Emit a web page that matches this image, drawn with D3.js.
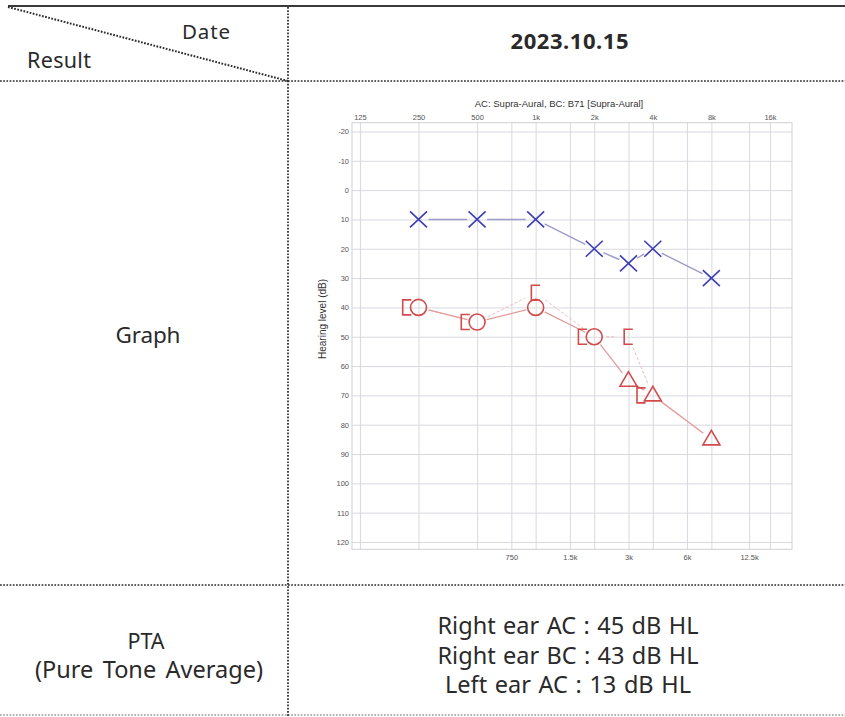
<!DOCTYPE html>
<html>
<head>
<meta charset="utf-8">
<script src="https://cdn.jsdelivr.net/npm/d3@7"></script>
<style>
  body { margin: 0; background: #fff; }
  svg { display: block; }
</style>
</head>
<body>
<div id="chart"></div>
<script>
// 数据
const testDate = "2023.10.15";
const chartTitle = "AC: Supra-Aural, BC: B71 [Supra-Aural]";

const topTicks = [125, 250, 500, 1000, 2000, 4000, 8000, 16000];
const topTickLabels = ["125", "250", "500", "1k", "2k", "4k", "8k", "16k"];
const bottomTicks = [750, 1500, 3000, 6000, 12500];
const bottomTickLabels = ["750", "1.5k", "3k", "6k", "12.5k"];
const dbTicks = [-20, -10, 0, 10, 20, 30, 40, 50, 60, 70, 80, 90, 100, 110, 120];

// left ear AC (X)
const leftAcFreq = [250, 500, 1000, 2000, 3000, 4000, 8000];
const leftAcDb = [10, 10, 10, 20, 25, 20, 30];
// right ear AC (O unmasked, triangle masked)
const rightAcFreq = [250, 500, 1000, 2000, 3000, 4000, 8000];
const rightAcDb = [40, 45, 40, 50, 65, 70, 85];
const rightAcMasked = [false, false, false, false, true, true, true];
// right ear BC masked ([)
const rightBcFreq = [250, 500, 1000, 2000, 3000, 4000];
const rightBcDb = [40, 45, 35, 50, 50, 70];

const ptaNames = ["Right ear AC", "Right ear BC", "Left ear AC"];
const ptaValues = [45, 43, 13];

const width = 845;
const height = 717;
const textFont = "'Noto Sans', 'DejaVu Sans', sans-serif";
const chartFont = "'Liberation Sans', Arial, sans-serif";
const textColor = "#2a2a2a";

const svg = d3.select("#chart")
    .append("svg")
    .attr("width", width)
    .attr("height", height);

// ---- 表格线 ----
svg.append("line")
    .attr("x1", 8).attr("y1", 6).attr("x2", width).attr("y2", 6)
    .attr("stroke", "#3a3a3a").attr("stroke-width", 2);

const dotted = [
    [0, 81, width, 81],
    [0, 585, width, 585],
    [0, 715, width, 715],
    [288, 7, 288, height],
    [8, 7, 288, 81]
];
svg.selectAll("line.dot")
    .data(dotted)
    .enter()
    .append("line")
    .attr("class", "dot")
    .attr("x1", d => d[0]).attr("y1", d => d[1])
    .attr("x2", d => d[2]).attr("y2", d => d[3])
    .attr("stroke", (d, i) => i === 2 ? "#999" : "#2a2a2a")
    .attr("stroke-width", (d, i) => i === 4 ? 2 : 1.7)
    .attr("stroke-dasharray", "1.7,1.5");

// ---- 表格文字 ----
// 多词文字用 word-spacing 撑到目标宽度，单词用 textLength
function fitWidth(t, target) {
    const txt = t.text();
    const spaces = (txt.match(/ /g) || []).length;
    const natural = t.node().getComputedTextLength();
    if (spaces > 0) {
        t.attr("word-spacing", (target - natural) / spaces);
    } else {
        t.attr("textLength", target).attr("lengthAdjust", "spacing");
    }
}

function label(txt, x, y, anchor, size, len, weight) {
    const t = svg.append("text")
        .attr("x", x).attr("y", y)
        .attr("text-anchor", anchor)
        .attr("font-family", textFont)
        .attr("font-size", size)
        .attr("font-weight", weight || "normal")
        .attr("fill", textColor)
        .text(txt);
    if (len) fitWidth(t, len);
}
label("Date", 182, 39, "start", 20.5, 48);
label("Result", 27, 68, "start", 21.5, 64);
label(testDate, 569.5, 49, "middle", 22, 118, "bold");
label("Graph", 148, 343, "middle", 22.5, 65);
label("PTA", 146, 649, "middle", 21.5);
label("(Pure Tone Average)", 149, 678, "middle", 23.5, 228);

const ptaWidths = [261, 261, 246];
svg.selectAll("text.pta")
    .data(ptaNames)
    .enter()
    .append("text")
    .attr("class", "pta")
    .attr("x", 568)
    .attr("y", (d, i) => 634 + i * 29.5)
    .attr("text-anchor", "middle")
    .attr("font-family", textFont)
    .attr("font-size", 23.5)
    .attr("fill", textColor)
    .text((d, i) => d + " : " + ptaValues[i] + " dB HL")
    .each(function (d, i) { fitWidth(d3.select(this), ptaWidths[i]); });

// ---- 听力图 ----
const plot = { left: 352, right: 792, top: 122.7, bottom: 549.3 };

const x = d3.scaleLog()
    .base(2)
    .domain([113.8, 20770])
    .range([plot.left, plot.right]);

const y = d3.scaleLinear()
    .domain([-23, 122.5])
    .range([plot.top, plot.bottom]);

const g = svg.append("g");

// 标题
g.append("text")
    .attr("x", 559).attr("y", 106.5)
    .attr("text-anchor", "middle")
    .attr("font-family", chartFont)
    .attr("font-size", 9.5)
    .attr("fill", "#333")
    .text(chartTitle);

const gridColor = "#d8d8e0";

// 横向网格 + y 轴
const yAxis = g.append("g")
    .attr("transform", "translate(" + plot.left + ",0)")
    .call(d3.axisLeft(y)
        .tickValues(dbTicks)
        .tickFormat(d => String(d))
        .tickSizeInner(-(plot.right - plot.left))
        .tickSizeOuter(0)
        .tickPadding(3));

// 纵向网格 + 上方频率
const topAxis = g.append("g")
    .attr("transform", "translate(0," + plot.top + ")")
    .call(d3.axisTop(x)
        .tickValues(topTicks)
        .tickFormat((d, i) => topTickLabels[i])
        .tickSizeInner(-(plot.bottom - plot.top))
        .tickSizeOuter(0)
        .tickPadding(3));

const bottomAxis = g.append("g")
    .attr("transform", "translate(0," + plot.bottom + ")")
    .call(d3.axisBottom(x)
        .tickValues(bottomTicks)
        .tickFormat((d, i) => bottomTickLabels[i])
        .tickSizeInner(-(plot.bottom - plot.top))
        .tickSizeOuter(0)
        .tickPadding(5));

[yAxis, topAxis, bottomAxis].forEach(function (a) {
    a.select(".domain").remove();
    a.selectAll(".tick line").attr("stroke", gridColor).attr("stroke-width", 1);
    a.selectAll(".tick text")
        .attr("font-family", chartFont)
        .attr("font-size", 7.5)
        .attr("fill", "#555");
});

// 边框
g.append("rect")
    .attr("x", plot.left).attr("y", plot.top)
    .attr("width", plot.right - plot.left)
    .attr("height", plot.bottom - plot.top)
    .attr("fill", "none")
    .attr("stroke", "#cfcfd8");

// y 轴标题
g.append("text")
    .attr("transform", "translate(326," + 319 + ") rotate(-90)")
    .attr("text-anchor", "middle")
    .attr("font-family", chartFont)
    .attr("font-size", 10)
    .attr("fill", "#333")
    .text("Hearing level (dB)");

// 连线（两端留空隙）
function gapSegments(freqs, dbs, gap) {
    const segs = [];
    for (let i = 0; i < freqs.length - 1; i++) {
        const x1 = x(freqs[i]), y1 = y(dbs[i]);
        const x2 = x(freqs[i + 1]), y2 = y(dbs[i + 1]);
        const len = Math.hypot(x2 - x1, y2 - y1);
        if (len <= gap * 2) continue;
        const ux = (x2 - x1) / len, uy = (y2 - y1) / len;
        segs.push([x1 + ux * gap, y1 + uy * gap, x2 - ux * gap, y2 - uy * gap]);
    }
    return segs;
}

function drawSegments(segs, color, w, dash) {
    g.append("g").selectAll("line")
        .data(segs)
        .enter()
        .append("line")
        .attr("x1", d => d[0]).attr("y1", d => d[1])
        .attr("x2", d => d[2]).attr("y2", d => d[3])
        .attr("stroke", color)
        .attr("stroke-width", w)
        .attr("stroke-dasharray", dash || null);
}

const red = "#d24a4a";
const blue = "#3d3db8";

drawSegments(gapSegments(rightBcFreq, rightBcDb, 12), "#efb9b9", 1, "3,2");
drawSegments(gapSegments(rightAcFreq, rightAcDb, 10), "#e49a9a", 1.3);
drawSegments(gapSegments(leftAcFreq, leftAcDb, 10), "#9c9cc9", 1.4);

// 左耳 X
g.append("g").selectAll("path")
    .data(leftAcFreq)
    .enter()
    .append("path")
    .attr("d", function (f, i) {
        const cx = x(f), cy = y(leftAcDb[i]);
        return "M" + (cx - 8.5) + "," + (cy - 8) + "L" + (cx + 8.5) + "," + (cy + 8) +
            "M" + (cx - 8.5) + "," + (cy + 8) + "L" + (cx + 8.5) + "," + (cy - 8);
    })
    .attr("fill", "none")
    .attr("stroke", blue)
    .attr("stroke-width", 1.6);

// 右耳 AC：圆 / 三角
g.append("g").selectAll("circle")
    .data(rightAcFreq.filter((f, i) => !rightAcMasked[i]))
    .enter()
    .append("circle")
    .attr("cx", d => x(d))
    .attr("cy", d => y(rightAcDb[rightAcFreq.indexOf(d)]))
    .attr("r", 8)
    .attr("fill", "none")
    .attr("stroke", red)
    .attr("stroke-width", 1.6);

g.append("g").selectAll("path")
    .data(rightAcFreq.filter((f, i) => rightAcMasked[i]))
    .enter()
    .append("path")
    .attr("d", function (f) {
        const cx = x(f), cy = y(rightAcDb[rightAcFreq.indexOf(f)]);
        return "M" + cx + "," + (cy - 9) + "L" + (cx - 8.5) + "," + (cy + 5.5) +
            "L" + (cx + 8.5) + "," + (cy + 5.5) + "Z";
    })
    .attr("fill", "none")
    .attr("stroke", red)
    .attr("stroke-width", 1.6);

// 右耳 BC：[ ，和 AC 重合时向左移
g.append("g").selectAll("path")
    .data(rightBcFreq)
    .enter()
    .append("path")
    .attr("d", function (f, i) {
        const j = rightAcFreq.indexOf(f);
        const overlap = j >= 0 && rightAcDb[j] === rightBcDb[i];
        const cx = x(f) + (overlap ? -11.5 : 0), cy = y(rightBcDb[i]);
        return "M" + (cx + 4.3) + "," + (cy - 7.5) + "H" + (cx - 4.3) +
            "V" + (cy + 7.5) + "H" + (cx + 4.3);
    })
    .attr("fill", "none")
    .attr("stroke", red)
    .attr("stroke-width", 1.6);
</script>
</body>
</html>
